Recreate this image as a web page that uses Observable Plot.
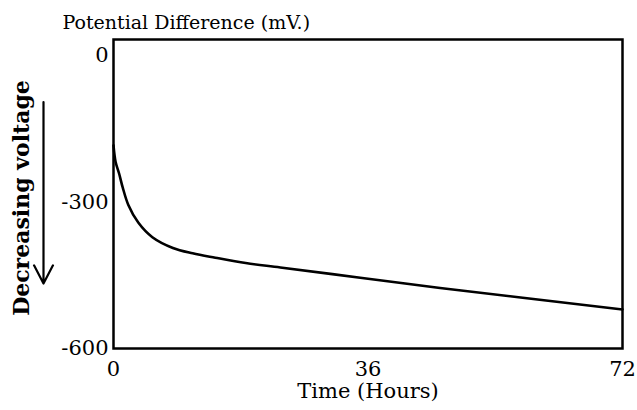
<!DOCTYPE html>
<html>
<head>
<meta charset="utf-8">
<script src="https://cdn.jsdelivr.net/npm/d3@7"></script>
<script src="https://cdn.jsdelivr.net/npm/@observablehq/plot@0.6"></script>
<style>
  html, body { margin: 0; padding: 0; background: #fff; }
</style>
</head>
<body>
<div id="chart"></div>
<script>
// Data
const hours = [0, 0.3, 0.8, 1.3, 2.1, 3.5, 5.5, 8.4, 11.2, 14.4, 18.7, 23.6, 34.9, 46.2, 72];
const potential = [-184, -218, -242, -270, -306, -342, -372, -394, -405, -414, -425, -434, -455, -476, -520];
const xTicks = [0, 36, 72];
const yTicks = [0, -300, -600];
const titleText = "Potential Difference (mV.)";
const yLabelText = "Decreasing voltage";
const xLabelText = "Time (Hours)";
const arrowFrom = [-95];
const arrowTo = [-467];

const data = hours.map((t, i) => ({t, v: potential[i]}));
const arrowData = arrowFrom.map((a, i) => ({a, b: arrowTo[i]}));

const chart = Plot.plot({
  width: 637,
  height: 410,
  marginLeft: 113,
  marginRight: 15,
  marginTop: 39,
  marginBottom: 62,
  style: {fontFamily: "DejaVu Serif", fontSize: "21px", color: "black", background: "white"},
  x: {domain: [0, 72], ticks: xTicks, tickSize: 0, tickPadding: 13, label: null, tickFormat: d => String(d)},
  y: {domain: [-600, 33], ticks: yTicks, tickSize: 0, tickPadding: 5, label: null, tickFormat: d => String(d)},
  marks: [
    Plot.frame({stroke: "black", strokeWidth: 2.5}),
    Plot.line(data, {x: "t", y: "v", stroke: "black", strokeWidth: 2.6, curve: "catmull-rom"}),
    Plot.arrow(arrowData, {x1: 0, x2: 0, y1: "a", y2: "b", dx: -70, stroke: "black", strokeWidth: 2.2, headLength: 14, headAngle: 55}),
    Plot.text([titleText], {frameAnchor: "top-left", text: d => d, textAnchor: "start", lineAnchor: "middle", dx: -51, dy: -17, fontSize: 19}),
    Plot.text([yLabelText], {frameAnchor: "left", text: d => d, textAnchor: "middle", lineAnchor: "middle", rotate: -90, dx: -92, dy: 4, fontSize: 22, fontWeight: "bold"}),
    Plot.text([xLabelText], {frameAnchor: "bottom", text: d => d, lineAnchor: "middle", dy: 43, fontSize: 21})
  ]
});
document.getElementById("chart").appendChild(chart);
</script>
</body>
</html>
